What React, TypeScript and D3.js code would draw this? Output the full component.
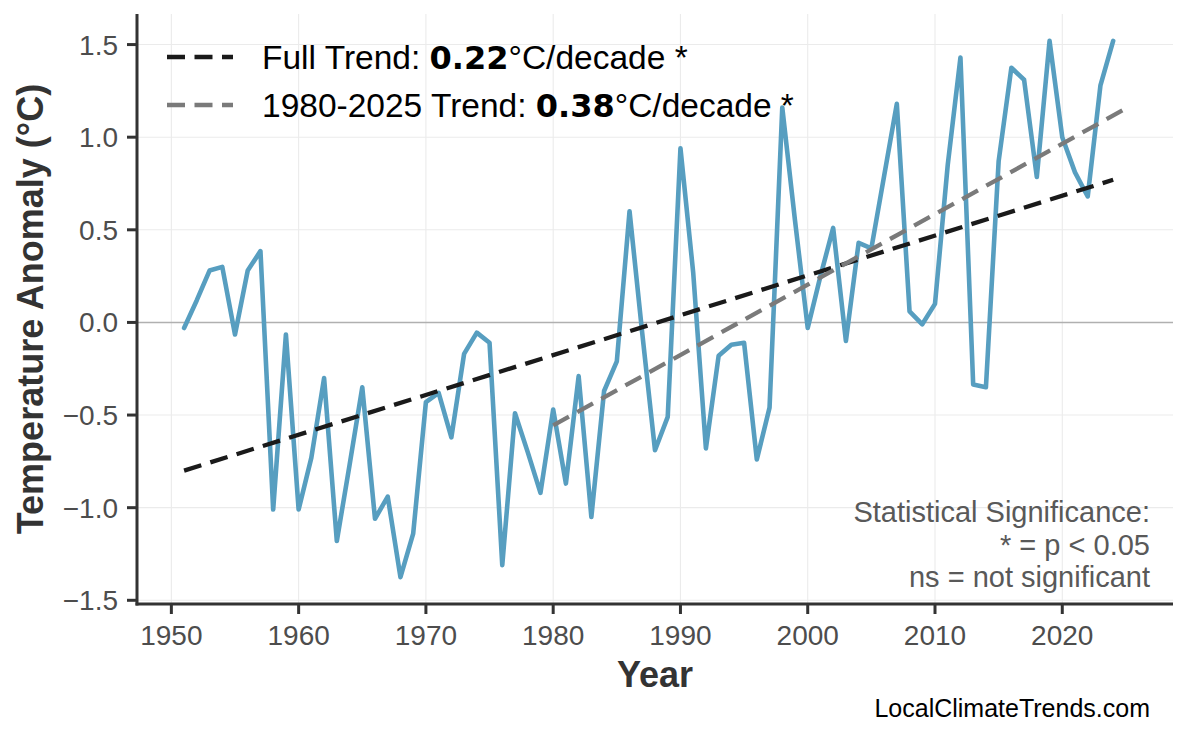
import React from 'react';
import * as d3 from 'd3';

// annual temperature anomaly (°C), 1951-2024
const years: number[] = d3.range(1951, 2025);
const anomalies: number[] = [
  -0.03, 0.12, 0.28, 0.30, -0.065, 0.28, 0.385, -1.01, -0.065, -1.01,
  -0.73, -0.30, -1.18, -0.77, -0.35, -1.06, -0.94, -1.375, -1.14, -0.43,
  -0.38, -0.62, -0.17, -0.055, -0.11, -1.31, -0.49, -0.70, -0.92, -0.47,
  -0.87, -0.29, -1.05, -0.37, -0.21, 0.60, -0.06, -0.69, -0.51, 0.94,
  0.27, -0.68, -0.18, -0.12, -0.11, -0.74, -0.46, 1.16, 0.55, -0.03,
  0.25, 0.51, -0.10, 0.43, 0.40, 0.79, 1.18, 0.06, -0.01, 0.10,
  0.85, 1.43, -0.335, -0.35, 0.87, 1.375, 1.31, 0.785, 1.52, 1.0,
  0.81, 0.68, 1.28, 1.52,
];

// trend line end points
const fullTrendYears = [1951, 2024];
const fullTrendValues = [-0.80, 0.77];
const recentTrendYears = [1980, 2025];
const recentTrendValues = [-0.556, 1.155];

const xTicks = [1950, 1960, 1970, 1980, 1990, 2000, 2010, 2020];
const yTicks = [-1.5, -1.0, -0.5, 0.0, 0.5, 1.0, 1.5];

const legendItems = [
  { label: 'Full Trend: ', value: '0.22', suffix: '°C/decade *', color: '#1a1a1a' },
  { label: '1980-2025 Trend: ', value: '0.38', suffix: '°C/decade *', color: '#7a7a7a' },
];
const noteLines = ['Statistical Significance:', '* = p < 0.05', 'ns = not significant'];

const W = 1186;
const H = 737;
const left = 137, right = 1173, top = 14, bottom = 604;
const FONT = '"Liberation Sans", Arial, sans-serif';

const App: React.FC = () => {
  const x = d3.scaleLinear().domain([1947.3, 2028.7]).range([left, right]);
  const y = d3.scaleLinear().domain([-1.52, 1.665]).range([bottom, top]);

  const pts: [number, number][] = years.map((yr, i) => [yr, anomalies[i]]);
  const line = d3.line<[number, number]>().x(d => x(d[0])).y(d => y(d[1]));

  const fullPts: [number, number][] = fullTrendYears.map((yr, i) => [yr, fullTrendValues[i]]);
  const recentPts: [number, number][] = recentTrendYears.map((yr, i) => [yr, recentTrendValues[i]]);

  return (
    <svg width={W} height={H} style={{ position: 'absolute', left: 0, top: 0, background: '#fff' }}
      fontFamily={FONT}>
      <rect width={W} height={H} fill="#fff" />

      {/* grid */}
      {xTicks.map(t => (
        <line key={'gx' + t} x1={x(t)} x2={x(t)} y1={top} y2={bottom} stroke="#ebebeb" strokeWidth={1.1} />
      ))}
      {yTicks.map(t => (
        <line key={'gy' + t} x1={left} x2={right} y1={y(t)} y2={y(t)} stroke="#ebebeb" strokeWidth={1.1} />
      ))}

      {/* zero line */}
      <line x1={left} x2={right} y1={y(0)} y2={y(0)} stroke="#b0b0b0" strokeWidth={1.6} />

      {/* data */}
      <path d={line(pts) || ''} fill="none" stroke="#579ec0" strokeWidth={4.6} strokeLinejoin="round" strokeLinecap="round" />

      {/* trends */}
      <path d={line(fullPts) || ''} fill="none" stroke="#1a1a1a" strokeWidth={4.3} strokeDasharray="18 9.5" />
      <path d={line(recentPts) || ''} fill="none" stroke="#7a7a7a" strokeWidth={4.3} strokeDasharray="18 9.5" />

      {/* axes */}
      <line x1={left} x2={left} y1={top} y2={bottom + 1.5} stroke="#333" strokeWidth={3} />
      <line x1={left - 1.5} x2={right} y1={bottom} y2={bottom} stroke="#333" strokeWidth={3} />
      {yTicks.map(t => (
        <g key={'ty' + t}>
          <line x1={left - 10} x2={left} y1={y(t)} y2={y(t)} stroke="#333" strokeWidth={3} />
          <text x={118} y={y(t) + 10} textAnchor="end" fontSize={28} fill="#4d4d4d">
            {d3.format('.1f')(t).replace('-', '\u2212')}
          </text>
        </g>
      ))}
      {xTicks.map(t => (
        <g key={'tx' + t}>
          <line x1={x(t)} x2={x(t)} y1={bottom} y2={bottom + 10} stroke="#333" strokeWidth={3} />
          <text x={x(t)} y={645} textAnchor="middle" fontSize={28} fill="#4d4d4d">{t}</text>
        </g>
      ))}

      {/* axis titles */}
      <text x={(left + right) / 2} y={687} textAnchor="middle" fontSize={36} fontWeight="bold" fill="#333">Year</text>
      <text transform={`translate(43,${(top + bottom) / 2}) rotate(-90)`} textAnchor="middle" fontSize={36}
        fontWeight="bold" fill="#333">Temperature Anomaly (°C)</text>

      {/* legend */}
      {legendItems.map((it, i) => (
        <g key={'lg' + i}>
          <line x1={167} x2={233} y1={57 + i * 48} y2={57 + i * 48} stroke={it.color} strokeWidth={4.5}
            strokeDasharray="18 9.5" />
          <text x={262} y={69 + i * 48} fontSize={33.5} fill="#000">
            {it.label}
            <tspan fontFamily='"DejaVu Sans", sans-serif' fontWeight="bold" fontSize={32}>{it.value}</tspan>
            {it.suffix}
          </text>
        </g>
      ))}

      {/* significance note */}
      {noteLines.map((s, i) => (
        <text key={'n' + i} x={1150} y={522 + i * 32.5} textAnchor="end" fontSize={29} fill="#595959">{s}</text>
      ))}

      <text x={1150} y={717} textAnchor="end" fontSize={25} fill="#000">LocalClimateTrends.com</text>
    </svg>
  );
};

export default App;
